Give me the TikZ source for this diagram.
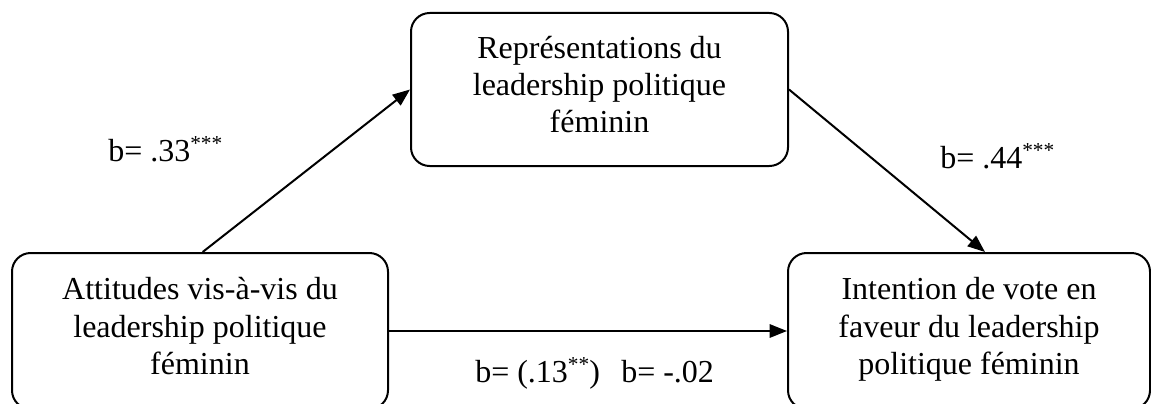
\documentclass[tikz,border=0pt]{standalone}
\usepackage{fontspec}
\setmainfont{Liberation Serif}
\usetikzlibrary{arrows.meta}
\newcommand{\stars}[1]{\raisebox{8pt}{\fontsize{16}{16}\selectfont #1}}
\newcommand{\dstrut}{\rule[-7.5pt]{0pt}{7.5pt}}
\begin{document}
\begin{tikzpicture}[x=0.75pt,y=-0.75pt,
  box/.style={draw, line width=1.5pt, rounded corners=14pt, inner sep=0pt,
    align=center, font=\fontsize{24}{28}\selectfont},
  lab/.style={anchor=base west, inner sep=0pt, font=\fontsize{24}{28}\selectfont},
  arr/.style={line width=1.5pt, -{Triangle[length=13pt,width=10pt]}}]
\clip (0,0) rectangle (1151,403);
\node[box, minimum width=282.75pt, minimum height=114.75pt] (med) at (599.5,89.5)
  {Représentations du\\leadership politique\\féminin\dstrut};
\node[box, minimum width=282pt, minimum height=117pt] (att) at (200,331)
  {Attitudes vis-à-vis du\\leadership politique\\féminin\dstrut};
\node[box, minimum width=271.5pt, minimum height=117pt] (int) at (969,331)
  {Intention de vote en\\faveur du leadership\\politique féminin\dstrut};
\draw[arr] ([xshift=2pt]att.north) -- (med.west);
\draw[arr] (med.east) -- ([xshift=12pt]int.north);
\draw[arr] (att.east) -- (int.west);
\node[lab] (la) at (108,161) {b= .33\stars{***}};
\node[lab] (lb) at (940,168) {b= .44\stars{***}};
\node[lab] (lc) at (475,382) {b= (.13\stars{**})\hspace{16pt}b= -.02};
\end{tikzpicture}
\end{document}
